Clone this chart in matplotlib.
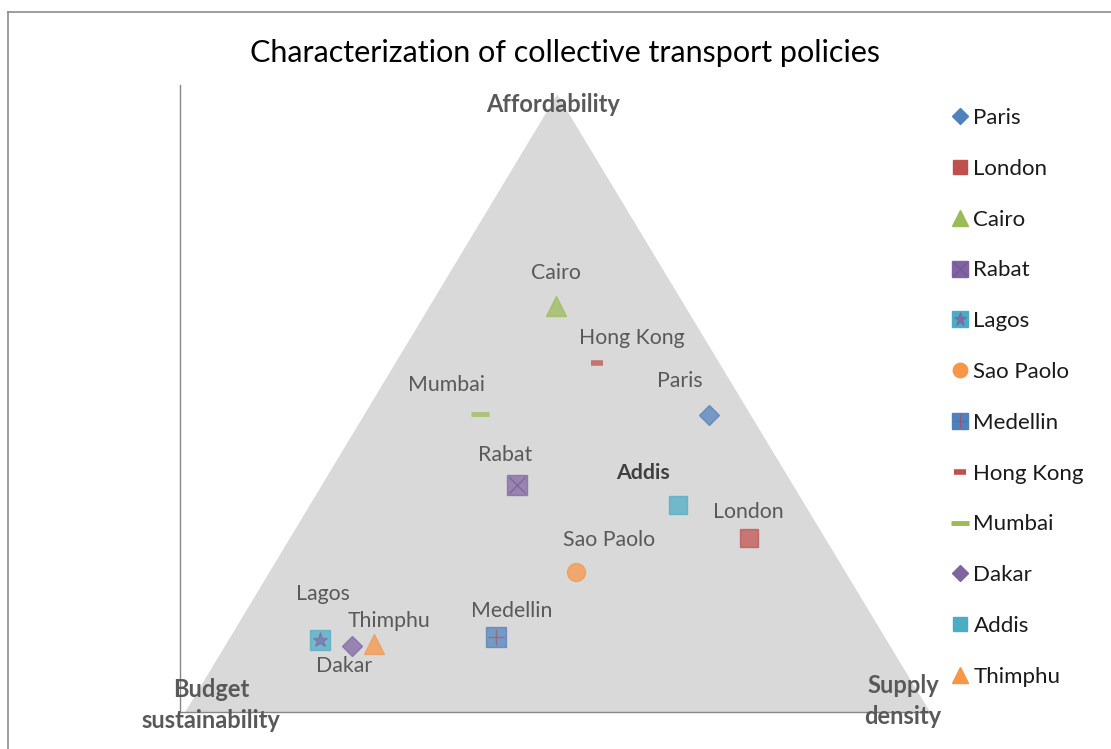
import matplotlib
matplotlib.use("Agg")
import matplotlib.pyplot as plt
from matplotlib.lines import Line2D
from matplotlib.patches import Polygon
from matplotlib.legend_handler import HandlerTuple

plt.rcParams['font.family'] = ['Lato', 'DejaVu Sans']

# city positions inside the triangle (x: left->right, y: bottom->top), 0-100 scale
cities = ['Paris', 'London', 'Cairo', 'Rabat', 'Lagos', 'Sao Paolo',
          'Medellin', 'Hong Kong', 'Mumbai', 'Dakar', 'Addis', 'Thimphu']
x_vals = [70.5, 75.9, 50.1, 44.9, 18.7, 52.8, 42.1, 55.6, 40.0, 22.9, 66.4, 25.9]
y_vals = [47.4, 27.8, 64.8, 36.2, 11.5, 22.3, 12.0, 55.7, 47.5, 10.5, 33.0, 10.8]

# triangle corners: budget sustainability, supply density, affordability
tri_x = [0.7, 100.0, 50.3]
tri_y = [0.0, 0.0, 98.5]

# marker style per series: (fill marker, fill colour, overlay marker, overlay colour, size)
styles = {
    'Paris':     ('D', '#4F81BD', None, None, 10),
    'London':    ('s', '#C0504D', None, None, 13),
    'Cairo':     ('^', '#9BBB59', None, None, 14),
    'Rabat':     ('s', '#8064A2', 'x', '#6E5490', 14),
    'Lagos':     ('s', '#4BACC6', '*', '#8064A2', 14),
    'Sao Paolo': ('o', '#F79646', None, None, 13),
    'Medellin':  ('s', '#4F81BD', '+', '#A0505D', 14),
    'Hong Kong': ('_', '#C0504D', None, None, 8),
    'Mumbai':    ('_', '#9BBB59', None, None, 13),
    'Dakar':     ('D', '#8064A2', None, None, 10),
    'Addis':     ('s', '#4BACC6', None, None, 13),
    'Thimphu':   ('^', '#F79646', None, None, 14),
}
# label offsets from the marker, in pixels (dx right, dy up)
label_offsets = {
    'Paris': (-29, 34), 'London': (-1, 26), 'Cairo': (0, 33),
    'Rabat': (-12, 30), 'Lagos': (3, 46), 'Sao Paolo': (33, 32),
    'Medellin': (16, 26), 'Hong Kong': (35, 25), 'Mumbai': (-33, 29),
    'Dakar': (-8, -20), 'Addis': (-35, 32), 'Thimphu': (15, 23),
}

dpi = 100
fig = plt.figure(figsize=(11.11, 7.49), dpi=dpi)
ax = fig.add_axes([180 / 1111, 1 - 712 / 749, 750 / 1111, 627 / 749])
ax.set_xlim(0, 100)
ax.set_ylim(0, 100)

# outer chart frame
fig.add_artist(Line2D([8 / 1111, 8 / 1111], [0, 1 - 12 / 749], color='#8C8C8C', lw=1.2))
fig.add_artist(Line2D([8 / 1111, 1], [1 - 12 / 749, 1 - 12 / 749], color='#8C8C8C', lw=1.2))

ax.add_patch(Polygon(list(zip(tri_x, tri_y)), closed=True, facecolor='#D9D9D9',
                     edgecolor='none', zorder=1))

handles = []
for name, x, y in zip(cities, x_vals, y_vals):
    mk, col, over, ocol, ms = styles[name]
    if mk == '_':
        mew = 4 if name == 'Hong Kong' else 3.5
        ax.plot(x, y, marker=mk, ms=ms, mew=mew, color=col, alpha=0.75, zorder=3)
        h = Line2D([], [], marker=mk, ms=ms, mew=mew, color=col, ls='none')
    else:
        ax.plot(x, y, marker=mk, ms=ms, color=col, mec=col, alpha=0.72, ls='none', zorder=3)
        h = Line2D([], [], marker=mk, ms=ms * 0.8, color=col, mec=col, ls='none')
        if over:
            ax.plot(x, y, marker=over, ms=ms * 0.8, mew=1.0, color=ocol, alpha=0.6,
                    ls='none', zorder=4)
            h = (h, Line2D([], [], marker=over, ms=ms * 0.7, mew=0.8, color=ocol,
                           alpha=0.8, ls='none'))
    handles.append(h)

    dx, dy = label_offsets[name]
    bold = name == 'Addis'
    ax.annotate(name, (x, y), xytext=(dx * 72 / dpi, dy * 72 / dpi),
                textcoords='offset points', ha='center', va='center',
                fontsize=15.3, color='#404040' if bold else '#595959',
                fontweight='bold' if bold else 'normal', zorder=5)

# corner labels
corner_kw = dict(fontsize=17, fontweight='bold', color='#595959', ha='center',
                 va='center', linespacing=1.4)
fig.text(553 / 1111, 1 - 104 / 749, 'Affordability', **corner_kw)
fig.text(211 / 1111, 1 - 705 / 749, 'Budget\nsustainability', **corner_kw)
fig.text(903 / 1111, 1 - 701 / 749, 'Supply\ndensity', **corner_kw)

fig.text(565 / 1111, 1 - 53 / 749, 'Characterization of collective transport policies',
         fontsize=22, color='#000000', ha='center', va='center')

for side in ['top', 'right']:
    ax.spines[side].set_visible(False)
for side in ['left', 'bottom']:
    ax.spines[side].set_color('#868686')
    ax.spines[side].set_linewidth(1.0)
ax.set_xticks([])
ax.set_yticks([])

leg = fig.legend(handles, cities, loc='upper left',
                 bbox_to_anchor=(939 / 1111, 1 - 97 / 749), frameon=False,
                 fontsize=16, labelspacing=1.385, handlelength=0.9,
                 handletextpad=0.15, borderpad=0,
                 handler_map={tuple: HandlerTuple(ndivide=1, pad=0)})
for t in leg.get_texts():
    t.set_color('#1A1A1A')

fig.savefig('out.png', dpi=dpi)
